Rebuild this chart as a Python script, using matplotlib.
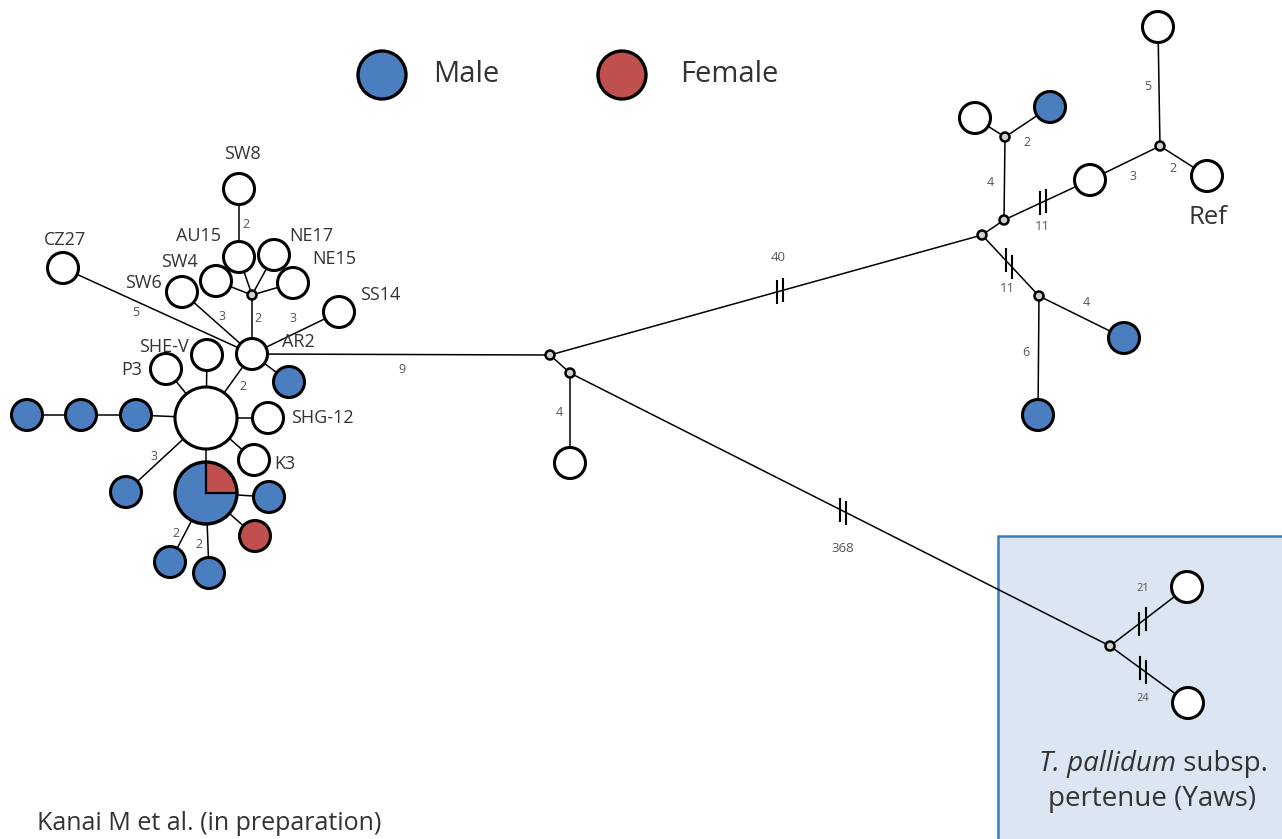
import matplotlib
matplotlib.use("Agg")
import matplotlib.pyplot as plt
from matplotlib.patches import Circle, Wedge, Rectangle
import numpy as np

plt.rcParams['font.family'] = ['Open Sans', 'DejaVu Sans']

BLUE = '#4a7ebf'
RED = '#c0504d'
TXT = '#333333'

# haplotypes: id, male, female, unknown (0/0/0 = median vector)
hap_ids = ['C', 'PIE', 'AR2', 'SHE-V', 'P3', 'SHG-12', 'K3', 'b1', 'b2', 'b3',
           'b4', 'b5', 'r1', 'b6', 'b7', 'b8', 'm1', 'SW8', 'AU15', 'NE17',
           'SW4', 'NE15', 'SW6', 'CZ27', 'SS14',
           'M1', 'M2', 'w9',
           'TA', 'TB', 'TC', 'tw1', 'tb1', 'tw2', 'TD', 'tw3', 'Ref', 'TE', 'tb2', 'tb3',
           'YA', 'y1', 'y2']
hap_male = [0, 3, 0, 0, 0, 0, 0, 1, 1, 1,
            1, 1, 0, 1, 1, 1, 0, 0, 0, 0,
            0, 0, 0, 0, 0,
            0, 0, 0,
            0, 0, 0, 0, 1, 0, 0, 0, 0, 0, 1, 1,
            0, 0, 0]
hap_female = [0, 1, 0, 0, 0, 0, 0, 0, 0, 0,
              0, 0, 1, 0, 0, 0, 0, 0, 0, 0,
              0, 0, 0, 0, 0,
              0, 0, 0,
              0, 0, 0, 0, 0, 0, 0, 0, 0, 0, 0, 0,
              0, 0, 0]
hap_unknown = [4, 0, 1, 1, 1, 1, 1, 0, 0, 0,
               0, 0, 0, 0, 0, 0, 0, 1, 1, 1,
               1, 1, 1, 1, 1,
               0, 0, 1,
               0, 0, 0, 1, 0, 1, 0, 1, 1, 0, 0, 0,
               0, 1, 1]

# edges: (from, to, mutational steps)
edges = [('C', 'PIE', 1), ('C', 'b1', 1), ('b1', 'b2', 1), ('b2', 'b3', 1),
         ('C', 'b4', 3), ('C', 'P3', 1), ('C', 'SHE-V', 1), ('C', 'SHG-12', 1),
         ('C', 'K3', 1), ('C', 'AR2', 2), ('PIE', 'b5', 1), ('PIE', 'r1', 1),
         ('PIE', 'b6', 2), ('PIE', 'b7', 2), ('AR2', 'b8', 1), ('AR2', 'm1', 2),
         ('m1', 'AU15', 1), ('m1', 'SW4', 1), ('m1', 'NE17', 1), ('m1', 'NE15', 1),
         ('AU15', 'SW8', 2), ('AR2', 'SW6', 3), ('AR2', 'CZ27', 5), ('AR2', 'SS14', 3),
         ('AR2', 'M1', 9), ('M1', 'M2', 1), ('M2', 'w9', 4),
         ('M1', 'TA', 40), ('M2', 'YA', 368),
         ('TA', 'TB', 1), ('TB', 'TC', 4), ('TC', 'tw1', 1), ('TC', 'tb1', 2),
         ('TB', 'tw2', 11), ('tw2', 'TD', 3), ('TD', 'tw3', 5), ('TD', 'Ref', 2),
         ('TA', 'TE', 11), ('TE', 'tb2', 4), ('TE', 'tb3', 6),
         ('YA', 'y1', 21), ('YA', 'y2', 24)]

strain_labels = ['SW8', 'AU15', 'NE17', 'SW4', 'NE15', 'SW6', 'CZ27', 'SS14',
                 'AR2', 'SHE-V', 'P3', 'SHG-12', 'K3', 'Ref']

# ---- layout (pixel space) ----
layout = {
    'C': (206, 418), 'PIE': (206, 493), 'AR2': (252, 354), 'SHE-V': (207, 355),
    'P3': (166, 369), 'SHG-12': (268, 418), 'K3': (254, 460),
    'b1': (136, 415), 'b2': (81, 415), 'b3': (27, 415), 'b4': (126, 492),
    'b5': (269, 497), 'r1': (255, 536), 'b6': (170, 562), 'b7': (209, 573),
    'b8': (289, 382), 'm1': (252, 295), 'SW8': (239, 189), 'AU15': (239, 257),
    'NE17': (274, 255), 'SW4': (216, 281), 'NE15': (293, 283), 'SW6': (182, 292),
    'CZ27': (63, 268), 'SS14': (339, 312),
    'M1': (550, 355), 'M2': (570, 373), 'w9': (570, 463),
    'TA': (982, 235), 'TB': (1004, 220), 'TC': (1005, 137), 'tw1': (975, 118),
    'tb1': (1050, 107), 'tw2': (1090, 180), 'TD': (1160, 146), 'tw3': (1158, 27),
    'Ref': (1207, 176), 'TE': (1039, 296), 'tb2': (1124, 338), 'tb3': (1038, 415),
    'YA': (1110, 646), 'y1': (1187, 587), 'y2': (1188, 703),
}
label_offset = {
    'SW8': (3, -35), 'AU15': (-40, -21), 'NE17': (37, -19), 'SW4': (-37, -19),
    'NE15': (41, -24), 'SW6': (-39, -9), 'CZ27': (2, -28), 'SS14': (41, -17),
    'AR2': (46, -12), 'SHE-V': (-43, -8), 'P3': (-34, 1), 'SHG-12': (54, 0),
    'K3': (31, 4), 'Ref': (1, 41),
}
# (position along edge, dx, dy) for step labels
step_label_pos = {
    ('C', 'b4'): (0.5, -12, 2), ('C', 'AR2'): (0.5, 14, 1),
    ('PIE', 'b6'): (0.5, -12, 6), ('PIE', 'b7'): (0.5, -8, 12),
    ('AR2', 'm1'): (0.5, 6, -6), ('AU15', 'SW8'): (0.5, 7, 1),
    ('AR2', 'SW6'): (0.5, 5, -6), ('AR2', 'CZ27'): (0.5, -22, 2),
    ('AR2', 'SS14'): (0.5, -3, -15), ('AR2', 'M1'): (0.5, 1, 15),
    ('M2', 'w9'): (0.5, -11, -5),
    ('M1', 'TA'): (0.532, -2, -34), ('M2', 'YA'): (0.506, 0, 37),
    ('TB', 'TC'): (0.5, -14, 4), ('TC', 'tb1'): (0.5, 0, 21),
    ('TB', 'tw2'): (0.45, 0, 24), ('tw2', 'TD'): (0.5, 8, 14),
    ('TD', 'tw3'): (0.5, -11, 0), ('TD', 'Ref'): (0.5, -11, 8),
    ('TA', 'TE'): (0.47, -1, 25), ('TE', 'tb2'): (0.5, 5, -14),
    ('TE', 'tb3'): (0.5, -13, -3),
    ('YA', 'y1'): (0.42, 0, -33), ('YA', 'y2'): (0.42, 0, 29),
}

fig = plt.figure(figsize=(12.82, 8.39), dpi=100)
ax = fig.add_axes([0, 0, 1, 1])
ax.set_xlim(0, 1282)
ax.set_ylim(839, 0)
ax.axis('off')

# yaws box
ax.add_patch(Rectangle((998, 536), 300, 320, fc='#dce6f2', ec='#3a7cc0', lw=1.8, zorder=0))

# edges
for a, b, n in edges:
    (x0, y0), (x1, y1) = layout[a], layout[b]
    ax.plot([x0, x1], [y0, y1], color='black', lw=1.1, zorder=1, solid_capstyle='butt')
    if (a, b) in step_label_pos:
        t, dx, dy = step_label_pos[(a, b)]
        px, py = x0 + t * (x1 - x0), y0 + t * (y1 - y0)
        if n >= 10:
            # broken-branch mark: two short vertical bars across the line
            for s in (-3.2, 3.2):
                cx = px + s
                cy = py + s * (y1 - y0) / (x1 - x0)
                ax.plot([cx, cx], [cy - 11, cy + 11], color='black', lw=1.5, zorder=2)
        fs = 8 if 20 <= n < 30 else (9.5 if n >= 10 else 9)
        ax.text(px + dx, py + dy, str(n), fontsize=fs, color='#555555',
                ha='center', va='center', zorder=4)

# nodes
for i, h in enumerate(hap_ids):
    x, y = layout[h]
    m, f, u = hap_male[i], hap_female[i], hap_unknown[i]
    tot = m + f + u
    if tot == 0:
        ax.add_patch(Circle((x, y), 4.5, fc='#d0d0d0', ec='black', lw=1.8, zorder=3))
        continue
    r = 15.5 * np.sqrt(tot)
    if f and m:
        a_red = 360 * f / tot
        ax.add_patch(Wedge((x, y), r, 360 - a_red, 360, fc=RED, ec='none', zorder=3))
        ax.add_patch(Wedge((x, y), r, 0, 360 - a_red, fc=BLUE, ec='none', zorder=3))
        ax.plot([x, x + r], [y, y], color='black', lw=1.6, zorder=3.5)
        ax.plot([x, x], [y, y - r], color='black', lw=1.6, zorder=3.5)
        ax.add_patch(Circle((x, y), r, fc='none', ec='black', lw=2.4, zorder=3.6))
    else:
        fc = BLUE if m else (RED if f else 'white')
        ax.add_patch(Circle((x, y), r, fc=fc, ec='black', lw=2.2, zorder=3))

for h in strain_labels:
    x, y = layout[h]
    dx, dy = label_offset[h]
    fs = 18.5 if h == 'Ref' else 13
    ax.text(x + dx, y + dy, h, fontsize=fs, color=TXT, ha='center', va='center', zorder=5)

# legend
ax.add_patch(Circle((382, 75), 24, fc=BLUE, ec='black', lw=2.4, zorder=3))
ax.text(433, 74, 'Male', fontsize=21, color=TXT, ha='left', va='center')
ax.add_patch(Circle((622, 75), 24, fc=RED, ec='black', lw=2.4, zorder=3))
ax.text(680, 74, 'Female', fontsize=21, color=TXT, ha='left', va='center')

# yaws caption: italic genus/species, then plain text
ax.text(1176, 771, 'T. pallidum', fontsize=20, color=TXT, style='italic',
        ha='right', va='baseline')
ax.text(1176, 771, ' subsp.', fontsize=20, color=TXT, ha='left', va='baseline')
ax.text(1152, 799, 'pertenue (Yaws)', fontsize=20, color=TXT, ha='center', va='center')

ax.text(37, 824, 'Kanai M et al. (in preparation)', fontsize=18, color=TXT,
        ha='left', va='center')

fig.savefig('out.png', dpi=100)
